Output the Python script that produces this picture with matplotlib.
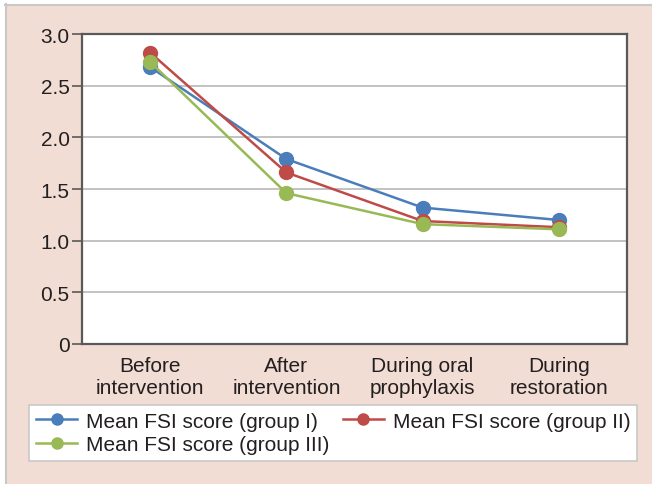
import matplotlib
matplotlib.use("Agg")
import matplotlib.pyplot as plt
from matplotlib.patches import Rectangle

categories = ["Before\nintervention", "After\nintervention", "During oral\nprophylaxis", "During\nrestoration"]
group1 = [2.68, 1.79, 1.32, 1.20]
group2 = [2.82, 1.66, 1.19, 1.13]
group3 = [2.73, 1.46, 1.16, 1.11]
series_labels = ["Mean FSI score (group I)", "Mean FSI score (group II)", "Mean FSI score (group III)"]
colors = ["#4A7EBB", "#BE4B48", "#98B954"]
yticks = [0, 0.5, 1.0, 1.5, 2.0, 2.5, 3.0]
ytick_labels = ["0", "0.5", "1.0", "1.5", "2.0", "2.5", "3.0"]

plt.rcParams['font.family'] = ['Liberation Sans', 'DejaVu Sans']

W, H = 652, 485
FS = 15
fig = plt.figure(figsize=(W / 100, H / 100), dpi=100)
bg = "#F2DDD4"
fig.patch.set_facecolor(bg)
# white strips with gray border at top/left
fig.patches.append(Rectangle((0, 1 - 5 / H), 1, 5 / H, transform=fig.transFigure,
                             facecolor="white", edgecolor="none", zorder=-10))
fig.patches.append(Rectangle((0, 0), 5 / W, 1, transform=fig.transFigure,
                             facecolor="white", edgecolor="none", zorder=-10))
fig.lines.append(plt.Line2D([5 / W, 1], [1 - 5.5 / H, 1 - 5.5 / H], transform=fig.transFigure,
                            color="#C8C8C8", lw=1.5, zorder=-9))
fig.lines.append(plt.Line2D([5.5 / W, 5.5 / W], [0, 1 - 5 / H], transform=fig.transFigure,
                            color="#C8C8C8", lw=1.5, zorder=-9))

left, right, top, bottom = 82, 627, 35, 345
ax = fig.add_axes([left / W, 1 - bottom / H, (right - left) / W, (bottom - top) / H])
ax.set_facecolor("white")

x = list(range(len(categories)))
lines = []
for vals, c, lab in zip([group1, group2, group3], colors, series_labels):
    ln, = ax.plot(x, vals, color=c, lw=1.8, marker="o", markersize=10, label=lab, zorder=3)
    lines.append(ln)

ax.set_xlim(-0.5, len(categories) - 0.5)
ax.set_ylim(0, 3.0)
ax.set_yticks(yticks)
ax.set_yticklabels(ytick_labels, fontsize=FS, color="#231F20")
ax.set_xticks(x)
ax.set_xticklabels(categories, fontsize=FS, color="#231F20", linespacing=1.2)
ax.tick_params(axis="x", length=0, pad=9)
ax.tick_params(axis="y", length=7, width=1.2, color="#595959", pad=2)
ax.grid(axis="y", color="#BDBDBD", lw=1.3, zorder=0)
ax.set_axisbelow(True)
for s in ax.spines.values():
    s.set_color("#595959")
    s.set_linewidth(1.6)

# order for row-wise filling in a 2-column legend
order = [0, 2, 1]
leg = fig.legend([lines[i] for i in order], [series_labels[i] for i in order],
                 loc="upper left", bbox_to_anchor=(29 / W, 1 - 406 / H),
                 ncol=2, fontsize=FS, frameon=True, fancybox=False,
                 handlelength=2.0, handletextpad=0.4, columnspacing=0.65,
                 labelspacing=0.22, borderpad=0.32, borderaxespad=0, markerscale=0.8)
leg.get_frame().set_edgecolor("#C8C8C8")
leg.get_frame().set_linewidth(1.2)
leg.get_frame().set_alpha(1)
for t in leg.get_texts():
    t.set_color("#231F20")

fig.savefig("out.png", dpi=100, facecolor=fig.get_facecolor())
